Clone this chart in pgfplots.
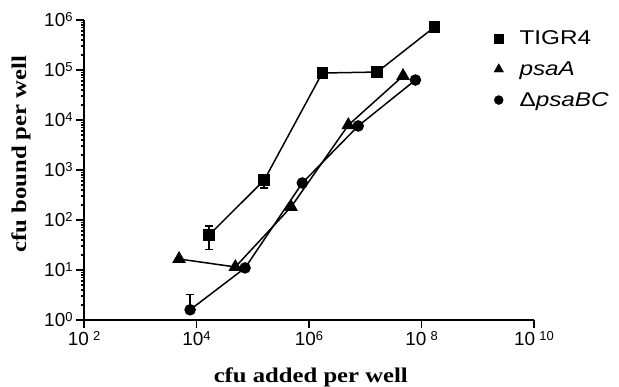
\documentclass[border=0pt]{standalone}
\usepackage{fontspec}
\setmainfont{Liberation Serif}
\setsansfont{Liberation Sans}
\newfontfamily\labelfont{Liberation Serif}[FakeStretch=1.18]
\newfontfamily\tickfont{Liberation Sans}
\usepackage{graphicx}
\usepackage{pgfplots}
\pgfplotsset{compat=1.18}
\newcommand\sx[1]{10\hspace{0.22em}\raisebox{0.5ex}{\fontsize{13}{13}\selectfont #1}}
\newcommand\sy[1]{10\raisebox{0.5ex}{\fontsize{13}{13}\selectfont #1}}
\newcommand\legtxt[1]{\scalebox{1.22}[1]{\tickfont\fontsize{20}{24}\selectfont #1}}
\begin{document}
\begin{tikzpicture}
\useasboundingbox (0,0) rectangle (619bp,387bp);
\begin{axis}[
  at={(84bp,67bp)}, anchor=south west,
  scale only axis, width=450bp, height=300bp,
  xmode=log, ymode=log,
  xmin=1e2, xmax=1e10, ymin=1, ymax=1e6,
  axis x line*=bottom, axis y line*=left,
  axis line style={line width=1.8bp},
  tick align=outside,
  major tick length=8bp,
  every tick/.style={line width=1.5bp, black},
  minor tick num=0,
  xtick={1e2,1e4,1e6,1e8,1e10},
  xticklabels={\sx{2},\sy{4},\sy{6},\sx{8},\sx{10}},
  ytick={1,1e1,1e2,1e3,1e4,1e5,1e6},
  yticklabels={\sy{0},\sy{1},\sy{2},\sy{3},\sy{4},\sy{5},\sy{6}},
  ticklabel style={font=\tickfont\fontsize{19}{19}\selectfont},
  xlabel={cfu added per well},
  ylabel={cfu bound per well},
  label style={font=\labelfont\bfseries\fontsize{21}{21}\selectfont},
  xlabel style={at={(axis description cs:0.504,-0.207)}, anchor=base},
  ylabel style={at={(axis description cs:-0.14,0.553)}, anchor=center, rotate=0},
  clip=false,
  legend style={draw=none, fill=none, at={(axis description cs:0.904,0.978)}, anchor=north west,
    row sep=11.5bp,
    /tikz/every odd column/.append style={column sep=14bp}},
  legend cell align=left,
  error bars/error bar style={line width=1.5bp, black},
  error bars/error mark options={rotate=90, mark size=4bp, line width=1.5bp, black},
]
\addplot[forget plot, black, line width=1.5bp, mark=square*, mark size=5bp, mark options={fill=black, solid},
  error bars/.cd, y dir=both, y explicit]
coordinates {
  (1.67e4,50) += (0,26) -= (0,24)
  (1.6e5,630) += (0,160) -= (0,190)
  (1.72e6,8.7e4) += (0,0) -= (0,0)
  (1.63e7,9.1e4) += (0,0) -= (0,0)
  (1.69e8,7.2e5) += (0,0) -= (0,0)
};
\addplot[forget plot, black, line width=1.5bp, mark=triangle*, mark size=6.5bp, mark options={fill=black, solid}]
coordinates {
  (4.9e3,16.6) (4.9e4,11.5) (4.8e5,182) (5.0e6,7.9e3) (4.7e7,7.6e4)
};
\addplot[forget plot, black, line width=1.5bp, mark=*, mark size=5bp, mark options={fill=black, solid},
  error bars/.cd, y dir=plus, y explicit]
coordinates {
  (7.7e3,1.6) +- (0,1.6)
  (7.3e4,11) +- (0,0)
  (7.6e5,550) +- (0,0)
  (7.5e6,7.6e3) +- (0,0)
  (7.8e7,6.3e4) +- (0,0)
};
\addlegendimage{only marks, mark=square*, mark size=4.5bp, black}
\addlegendentry{\legtxt{TIGR4}}
\addlegendimage{only marks, mark=triangle*, mark size=5.5bp, black}
\addlegendentry{\legtxt{\itshape psaA}}
\addlegendimage{only marks, mark=*, mark size=4.5bp, black}
\addlegendentry{\legtxt{Δ\itshape psaBC}}
\end{axis}
\end{tikzpicture}
\end{document}
